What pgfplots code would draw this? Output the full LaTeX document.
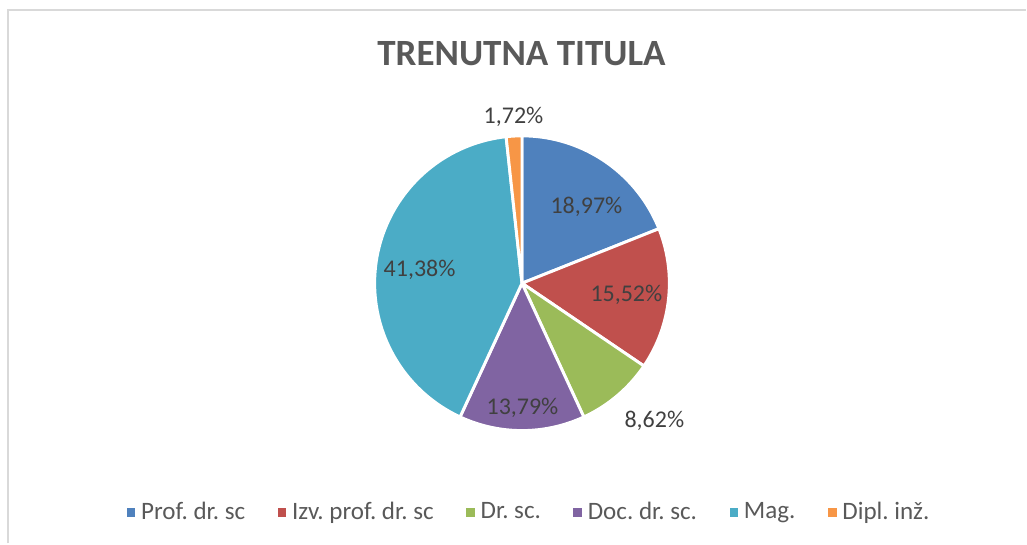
\documentclass[border=0pt]{standalone}
\usepackage{fontspec}
\setmainfont{Carlito}
\usepackage{pgfplots}
\pgfplotsset{compat=1.18}
\frenchspacing
\definecolor{cProf}{HTML}{4F81BD}
\definecolor{cIzv}{HTML}{C0504D}
\definecolor{cDr}{HTML}{9BBB59}
\definecolor{cDoc}{HTML}{8064A2}
\definecolor{cMag}{HTML}{4BACC6}
\definecolor{cDipl}{HTML}{F79646}
\definecolor{titlegray}{HTML}{595959}
\definecolor{lblgray}{HTML}{404040}
\definecolor{framegray}{HTML}{D9D9D9}

% shares in percent
\def\vProf{18.97}
\def\vIzv{15.52}
\def\vDr{8.62}
\def\vDoc{13.79}
\def\vMag{41.38}
\def\vDipl{1.72}

% pie geometry (canvas units = pixels)
\def\cx{522.5}
\def\cy{260.5}
\def\rr{147.5}

\begin{document}
\begin{tikzpicture}
\pgfmathsetmacro{\aA}{90}
\pgfmathsetmacro{\aB}{\aA-3.6*\vProf}
\pgfmathsetmacro{\aC}{\aB-3.6*\vIzv}
\pgfmathsetmacro{\aD}{\aC-3.6*\vDr}
\pgfmathsetmacro{\aE}{\aD-3.6*\vDoc}
\pgfmathsetmacro{\aF}{\aE-3.6*\vMag}
\pgfmathsetmacro{\aG}{\aF-3.6*\vDipl}
\begin{axis}[
  width=385.125pt, height=204pt, scale only axis,
  xmin=0, xmax=1027, ymin=0, ymax=544,
  hide axis, clip=false,
  samples=80,
  legend columns=6,
  legend style={draw=none, fill=none, at={(0.5176,0.057)}, anchor=center,
    font=\fontsize{9.4}{10}\selectfont, text=titlegray,
    nodes={inner xsep=2.2pt},
    /tikz/every even column/.append style={column sep=10pt}},
  legend image code/.code={\fill[#1,draw=none] (0pt,-1.6pt) rectangle (3.2pt,1.6pt);},
  wedge/.style={draw=white, line width=1.1pt},
]
\path (axis cs:0,0) rectangle (axis cs:1027,544);
\draw[framegray, line width=0.75pt] (axis cs:8.5,0) -- (axis cs:8.5,533.5) -- (axis cs:1027,533.5);

\addplot[wedge, fill=cProf, domain=\aB:\aA] ({\cx+\rr*cos(x)},{\cy+\rr*sin(x)}) -- (axis cs:\cx,\cy) -- cycle;
\addlegendentry{Prof. dr. sc}
\addplot[wedge, fill=cIzv, domain=\aC:\aB] ({\cx+\rr*cos(x)},{\cy+\rr*sin(x)}) -- (axis cs:\cx,\cy) -- cycle;
\addlegendentry{Izv. prof. dr. sc}
\addplot[wedge, fill=cDr, domain=\aD:\aC] ({\cx+\rr*cos(x)},{\cy+\rr*sin(x)}) -- (axis cs:\cx,\cy) -- cycle;
\addlegendentry{Dr. sc.}
\addplot[wedge, fill=cDoc, domain=\aE:\aD] ({\cx+\rr*cos(x)},{\cy+\rr*sin(x)}) -- (axis cs:\cx,\cy) -- cycle;
\addlegendentry{Doc. dr. sc.}
\addplot[wedge, fill=cMag, domain=\aF:\aE] ({\cx+\rr*cos(x)},{\cy+\rr*sin(x)}) -- (axis cs:\cx,\cy) -- cycle;
\addlegendentry{Mag.}
\addplot[wedge, fill=cDipl, domain=\aG:\aF] ({\cx+\rr*cos(x)},{\cy+\rr*sin(x)}) -- (axis cs:\cx,\cy) -- cycle;
\addlegendentry{Dipl. inž.}

\node[font=\bfseries\fontsize{13.9}{16}\selectfont, text=titlegray] at (axis cs:522,490) {TRENUTNA TITULA};

\begin{scope}[every node/.style={font=\fontsize{9}{11}\selectfont, text=lblgray}]
\node at (axis cs:587,337) {18,97\%};
\node at (axis cs:627,249) {15,52\%};
\node at (axis cs:655,123) {8,62\%};
\node at (axis cs:523,136) {13,79\%};
\node at (axis cs:420,274) {41,38\%};
\node at (axis cs:514,427) {1,72\%};
\end{scope}
\end{axis}
\end{tikzpicture}
\end{document}
